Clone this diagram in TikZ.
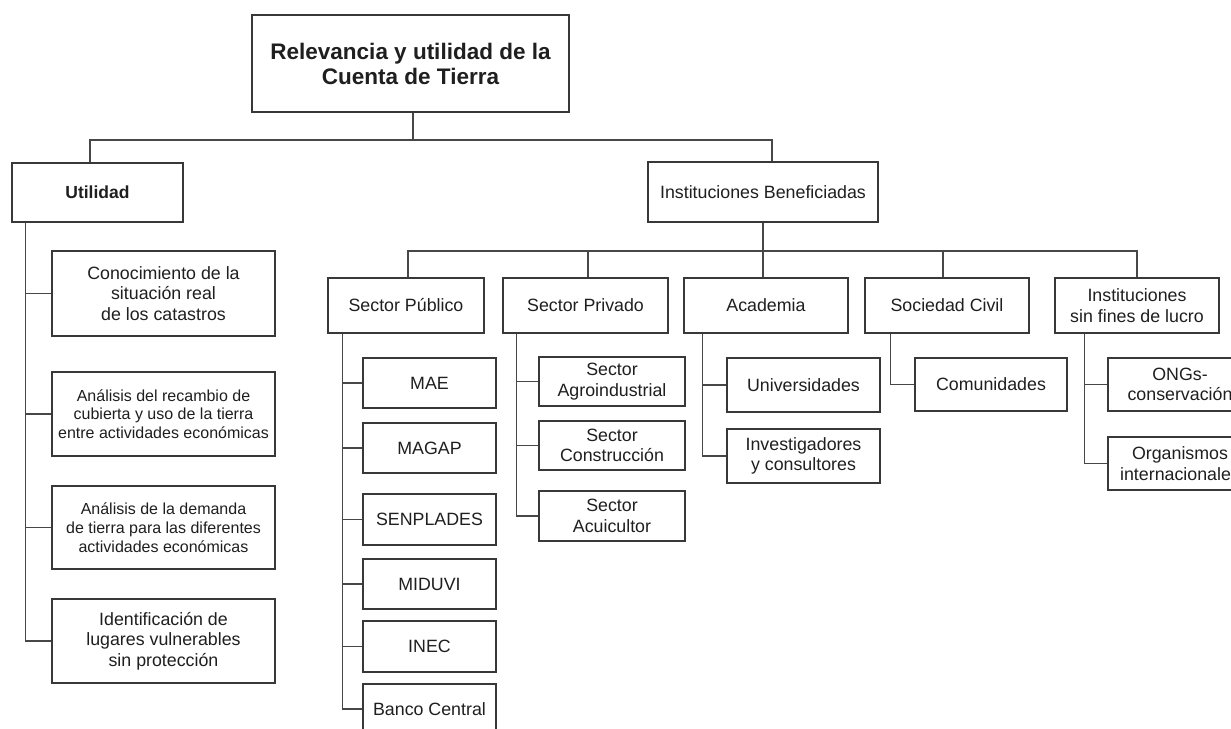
\documentclass[tikz,border=0pt]{standalone}
\usepackage{fontspec}
\setmainfont{Liberation Sans}
\begin{document}
\begin{tikzpicture}[x=1pt,y=-1pt,
  bx/.style={draw=black!78, line width=1.1pt, rectangle, inner sep=0pt, align=center, text=black!88,
    font=\fontsize{17.8}{20.5}\selectfont},
  sm/.style={font=\fontsize{16}{18.7}\selectfont},
  ln/.style={draw=black!72, line width=1.1pt}]
\clip (0,0) rectangle (1231,728);
\fill[white] (0,0) rectangle (1231,728);

% top level
\node[bx, minimum width=317pt, minimum height=97pt, font=\fontsize{22.5}{25}\selectfont\bfseries] (top) at (410.5,63.5) {Relevancia y utilidad de la\\Cuenta de Tierra};
\node[bx, minimum width=171pt, minimum height=59pt, font=\fontsize{17.5}{20}\selectfont\bfseries] (util) at (97.5,192.5) {Utilidad};
\node[bx, minimum width=230pt, minimum height=60pt] (inst) at (763,192) {Instituciones Beneficiadas};

% utilidad children
\node[bx, minimum width=223pt, minimum height=85pt] (u1) at (163.5,293.5) {Conocimiento de la\\situación real\\de los catastros};
\node[bx, sm, minimum width=223pt, minimum height=84pt] (u2) at (163.5,414) {Análisis del recambio de\\cubierta y uso de la tierra\\entre actividades económicas};
\node[bx, sm, minimum width=223pt, minimum height=83pt] (u3) at (163.5,527.5) {Análisis de la demanda\\de tierra para las diferentes\\actividades económicas};
\node[bx, minimum width=223pt, minimum height=84pt] (u4) at (163.5,641) {Identificación de\\lugares vulnerables\\sin protección};

% second row
\node[bx, minimum width=156pt, minimum height=55pt] (pub) at (406,305.5) {Sector Público};
\node[bx, minimum width=165pt, minimum height=55pt] (priv) at (585.5,305.5) {Sector Privado};
\node[bx, minimum width=164pt, minimum height=55pt] (acad) at (766,305.5) {Academia};
\node[bx, minimum width=164pt, minimum height=55pt] (soc) at (947,305.5) {Sociedad Civil};
\node[bx, minimum width=164pt, minimum height=55pt] (sfl) at (1137,305.5) {Instituciones\\sin fines de lucro};

% sector publico children
\node[bx, minimum width=133pt, minimum height=50pt] (mae) at (429.5,383) {MAE};
\node[bx, minimum width=133pt, minimum height=50pt] (magap) at (429.5,448) {MAGAP};
\node[bx, minimum width=133pt, minimum height=51pt] (senp) at (429.5,519.5) {SENPLADES};
\node[bx, minimum width=133pt, minimum height=50pt] (miduvi) at (429.5,584) {MIDUVI};
\node[bx, minimum width=133pt, minimum height=51pt] (inec) at (429.5,646.5) {INEC};
\node[bx, minimum width=133pt, minimum height=50pt] (banco) at (429.5,709) {Banco Central};

% sector privado children
\node[bx, minimum width=146pt, minimum height=49pt] (agro) at (612,381.5) {Sector\\Agroindustrial};
\node[bx, minimum width=146pt, minimum height=49pt] (cons) at (612,445.5) {Sector\\Construcción};
\node[bx, minimum width=146pt, minimum height=50pt] (acui) at (612,516) {Sector\\Acuicultor};

% academia children
\node[bx, minimum width=153pt, minimum height=54pt] (univ) at (803.5,385) {Universidades};
\node[bx, minimum width=153pt, minimum height=54pt] (inv) at (803.5,456) {Investigadores\\y consultores};

% sociedad civil children
\node[bx, minimum width=152pt, minimum height=53pt] (com) at (991,384.5) {Comunidades};

% sin fines de lucro children
\node[bx, minimum width=144pt, minimum height=53pt] (ong) at (1180,384.5) {ONGs-\\conservación};
\node[bx, minimum width=144pt, minimum height=53pt] (org) at (1180,463.5) {Organismos\\internacionales};

% connectors level 1
\coordinate (h1) at (413,140);
\draw[ln] ([xshift=2.5pt]top.south) -- (h1);
\draw[ln] ([xshift=-7.5pt]util.north) |- (h1) -| ([xshift=9pt]inst.north);

% utilidad trunk
\coordinate (tu) at ([xshift=14pt]util.south west);
\draw[ln] (tu) |- (u4.west);
\foreach \n in {u1,u2,u3} \draw[ln] (tu |- \n.west) -- (\n.west);

% level 2
\coordinate (h2) at (763,251);
\draw[ln] (inst.south) -- (h2) -- (h2 |- acad.north);
\draw[ln] ([xshift=2pt]pub.north) |- (h2) -| (sfl.north);
\draw[ln] ([xshift=2.5pt]priv.north) -- ([xshift=2.5pt]priv.north |- h2);
\draw[ln] ([xshift=-4pt]soc.north) -- ([xshift=-4pt]soc.north |- h2);

% sector publico trunk
\coordinate (tp) at ([xshift=15pt]pub.south west);
\draw[ln] (tp) |- (banco.west);
\foreach \n in {mae,magap,senp,miduvi,inec} \draw[ln] (tp |- \n.west) -- (\n.west);

% sector privado trunk
\coordinate (tv) at ([xshift=14pt]priv.south west);
\draw[ln] (tv) |- (acui.west);
\foreach \n in {agro,cons} \draw[ln] (tv |- \n.west) -- (\n.west);

% academia trunk
\coordinate (ta) at ([xshift=19pt]acad.south west);
\draw[ln] (ta) |- (inv.west);
\draw[ln] (ta |- univ.west) -- (univ.west);

% sociedad civil trunk
\coordinate (ts) at ([xshift=26pt]soc.south west);
\draw[ln] (ts) |- (com.west);

% sin fines trunk
\coordinate (tf) at ([xshift=30pt]sfl.south west);
\draw[ln] (tf) |- (org.west);
\draw[ln] (tf |- ong.west) -- (ong.west);
\end{tikzpicture}
\end{document}
